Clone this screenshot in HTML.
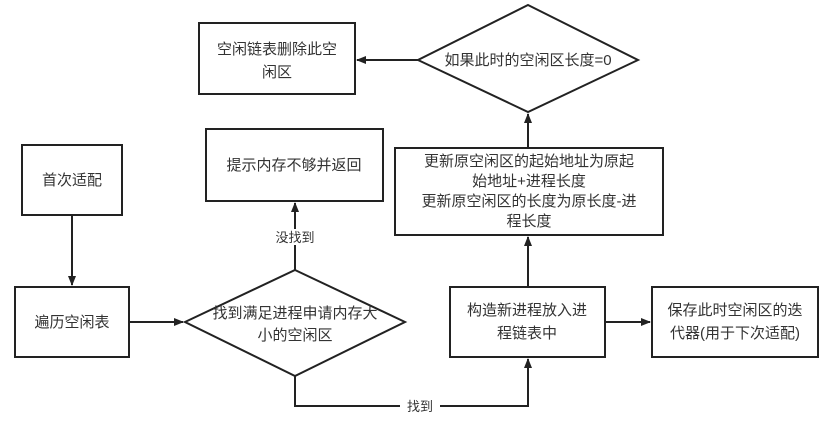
<!DOCTYPE html>
<html><head><meta charset="utf-8"><style>
body{margin:0;background:#fff;}
svg text{font-family:"Liberation Sans","Noto Sans CJK SC",sans-serif;font-size:15px;fill:#333;text-anchor:middle;}
</style></head><body>
<svg width="840" height="422" xmlns="http://www.w3.org/2000/svg">
<defs><marker id="a" markerWidth="10" markerHeight="8" refX="9" refY="4" orient="auto" markerUnits="userSpaceOnUse"><path d="M0,0 L10,4 L0,8 Z" fill="#222"/></marker></defs>
<g fill="none" stroke="#222" stroke-width="2">
<rect x="199" y="23" width="156" height="71" fill="#fff"/>
<polygon points="528,5 638,60 528,112 418,60" fill="#fff"/>
<rect x="395" y="148" width="268" height="87" fill="#fff"/>
<rect x="206" y="129" width="177" height="72" fill="#fff"/>
<rect x="22" y="145" width="100" height="70" fill="#fff"/>
<rect x="15" y="287" width="114" height="70" fill="#fff"/>
<polygon points="295,270 405,322 295,376 185,322" fill="#fff"/>
<rect x="450" y="287" width="155" height="70" fill="#fff"/>
<rect x="652" y="287" width="166" height="70" fill="#fff"/>
<line x1="418" y1="60" x2="357" y2="60" marker-end="url(#a)"/>
<line x1="528" y1="148" x2="528" y2="114" marker-end="url(#a)"/>
<line x1="528" y1="287" x2="528" y2="237" marker-end="url(#a)"/>
<line x1="72" y1="215" x2="72" y2="285" marker-end="url(#a)"/>
<line x1="129" y1="322" x2="183" y2="322" marker-end="url(#a)"/>
<line x1="295" y1="270" x2="295" y2="203" marker-end="url(#a)"/>
<polyline points="295,376 295,406 528,406 528,359" marker-end="url(#a)"/>
<line x1="605" y1="322" x2="650" y2="322" marker-end="url(#a)"/>
</g>
<rect x="270" y="229" width="50" height="16" fill="#fff"/>
<rect x="400" y="398" width="40" height="16" fill="#fff"/>
<text x="277" y="54">空闲链表删除此空</text>
<text x="277" y="77">闲区</text>
<text x="528" y="65">如果此时的空闲区长度=0</text>
<text x="529" y="166">更新原空闲区的起始地址为原起</text>
<text x="529" y="186">始地址+进程长度</text>
<text x="529" y="206">更新原空闲区的长度为原长度-进</text>
<text x="529" y="226">程长度</text>
<text x="294" y="170">提示内存不够并返回</text>
<text x="72" y="185">首次适配</text>
<text x="72" y="327">遍历空闲表</text>
<text x="295" y="318">找到满足进程申请内存大</text>
<text x="295" y="340">小的空闲区</text>
<text x="527" y="315">构造新进程放入进</text>
<text x="527" y="338">程链表中</text>
<text x="735" y="315">保存此时空闲区的迭</text>
<text x="735" y="338">代器(用于下次适配)</text>
<text x="295" y="242" style="font-size:13px">没找到</text>
<text x="420" y="411" style="font-size:13px">找到</text>
</svg>
</body></html>
